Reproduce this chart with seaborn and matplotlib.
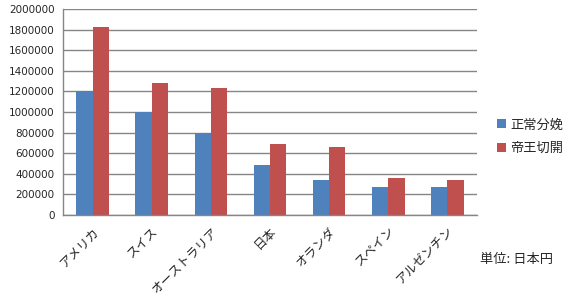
import matplotlib
matplotlib.use("Agg")
import matplotlib.pyplot as plt
import seaborn as sns
import pandas as pd
import numpy as np

categories = ["アメリカ", "スイス", "オーストラリア", "日本", "オランダ", "スペイン", "アルゼンチン"]
normal = [1200000, 1000000, 800000, 490000, 340000, 270000, 270000]
cesarean = [1830000, 1280000, 1230000, 690000, 660000, 360000, 340000]
series_names = ["正常分娩", "帝王切開"]
yticks = list(range(0, 2000001, 200000))

sns.set_theme(style="white")
plt.rcParams['font.family'] = ['DejaVu Sans', 'Noto Sans CJK JP']
jp = ['Noto Sans CJK JP', 'DejaVu Sans']

df = pd.DataFrame({
    "country": categories * 2,
    "value": normal + cesarean,
    "series": [series_names[0]] * len(categories) + [series_names[1]] * len(categories),
})

fig = plt.figure(figsize=(5.63, 2.95), dpi=100)
ax = fig.add_axes([63/563, 1 - 215/295, (477-63)/563, (215-9)/295])

sns.barplot(data=df, x="country", y="value", hue="series", order=categories,
            hue_order=series_names, palette=["#4F81BD", "#C0504D"], width=0.55,
            saturation=1, ax=ax, legend=True, linewidth=0, edgecolor="none")

ax.set_ylim(0, 2000000)
ax.set_xlim(-0.5, len(categories) - 0.5)
ax.set_yticks(yticks)
ax.set_yticklabels([str(v) for v in yticks], fontsize=7.5)
ax.yaxis.grid(True, color="#868686", linewidth=1)
ax.set_axisbelow(True)
ax.set_xlabel("")
ax.set_ylabel("")

ax.set_xticks(range(len(categories)))
ax.set_xticklabels(categories, rotation=45, ha="right", rotation_mode="anchor",
                   fontsize=9, family=jp)
ax.set_xticks(np.arange(-0.5, len(categories), 1.0), minor=True)
ax.tick_params(axis="x", which="major", length=0, pad=7)
ax.tick_params(axis="x", which="minor", length=4, color="#868686", width=1, direction="out")
ax.tick_params(axis="y", length=4, color="#868686", width=1, direction="out", pad=2)

for s in ["top", "right"]:
    ax.spines[s].set_visible(False)
for s in ["left", "bottom"]:
    ax.spines[s].set_color("#868686")
    ax.spines[s].set_linewidth(1)

leg = ax.legend(loc="center left", bbox_to_anchor=(1.02, 0.38), frameon=False,
                prop={'family': jp, 'size': 9.5}, handlelength=0.7, handleheight=0.7,
                handletextpad=0.3, labelspacing=0.8)
for h in leg.legend_handles:
    h.set_linewidth(0)

fig.text(480/563, 1 - 260/295, "単位: 日本円", fontsize=9.5, family=jp, va="center", ha="left")

fig.savefig("out.png", dpi=100)
